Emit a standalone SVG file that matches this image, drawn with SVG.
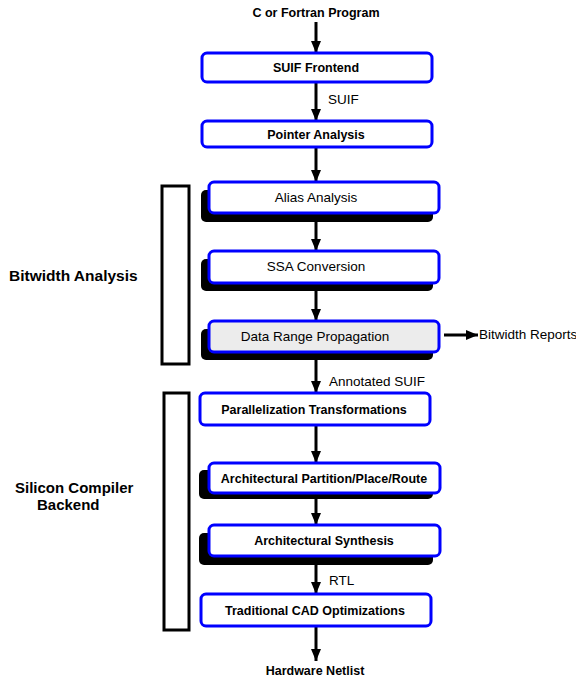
<svg xmlns="http://www.w3.org/2000/svg" width="576" height="684" viewBox="0 0 576 684">
  <style>
    .box { fill: #ffffff; stroke: #0000ff; stroke-width: 3; }
    .gray { fill: #ececec; }
    .shadow { fill: #000000; }
    .bracket { fill: none; stroke: #000000; stroke-width: 3; }
    .b { font-family: "Liberation Sans", Arial, sans-serif; font-weight: bold; font-size: 12.5px; fill: #000; text-anchor: middle; }
    .n { font-family: "Liberation Sans", Arial, sans-serif; font-size: 13.5px; fill: #000; text-anchor: middle; }
    .lbl { font-family: "Liberation Sans", Arial, sans-serif; font-size: 13.5px; fill: #000; }
    .side { font-family: "Liberation Sans", Arial, sans-serif; font-weight: bold; font-size: 15px; fill: #000; }
    .edge { stroke: #000; stroke-width: 3; fill: none; marker-end: url(#head); }
  </style>
  <defs>
    <marker id="head" markerUnits="userSpaceOnUse" markerWidth="12" markerHeight="12" viewBox="0 0 12 12" refX="12" refY="6" orient="auto">
      <path d="M0,1 L12,6 L0,11 Z" fill="#000"/>
    </marker>
  </defs>

  <!-- grouping brackets -->
  <g id="bitwidth-analysis">
    <rect class="bracket" x="162" y="186" width="27" height="178"/>
    <text class="side" x="9" y="281" style="font-size:15.5px">Bitwidth Analysis</text>
  </g>
  <g id="silicon-backend">
    <rect class="bracket" x="164" y="393" width="25" height="237"/>
    <text class="side" x="15" y="493">Silicon Compiler</text>
    <text class="side" x="37" y="510">Backend</text>
  </g>

  <!-- connectors -->
  <g id="connectors">
    <line class="edge" x1="316" y1="22" x2="316" y2="53"/>
    <line class="edge" x1="316" y1="83" x2="316" y2="121"/>
    <line class="edge" x1="316" y1="148" x2="316" y2="182"/>
    <line class="edge" x1="316" y1="214" x2="316" y2="251"/>
    <line class="edge" x1="316" y1="284" x2="316" y2="321"/>
    <line class="edge" x1="316" y1="353" x2="316" y2="393"/>
    <line class="edge" x1="316" y1="426" x2="316" y2="463"/>
    <line class="edge" x1="316" y1="494" x2="316" y2="525"/>
    <line class="edge" x1="316" y1="557" x2="316" y2="594"/>
    <line class="edge" x1="316" y1="627" x2="316" y2="661"/>
    <line class="edge" x1="444" y1="335" x2="478" y2="335"/>
    <text class="lbl" x="328" y="104">SUIF</text>
    <text class="lbl" x="329" y="386">Annotated SUIF</text>
    <text class="lbl" x="329" y="585">RTL</text>
  </g>

  <!-- terminals -->
  <g id="source">
    <text class="b" x="316" y="17">C or Fortran Program</text>
  </g>
  <g id="netlist">
    <text class="b" x="315" y="675">Hardware Netlist</text>
  </g>
  <g id="reports">
    <text class="lbl" x="479" y="339">Bitwidth Reports</text>
  </g>

  <!-- processing stages -->
  <g id="suif-frontend">
    <rect class="box" x="202" y="53" width="230" height="29" rx="5"/>
    <text class="b" x="316" y="72">SUIF Frontend</text>
  </g>
  <g id="pointer-analysis">
    <rect class="box" x="202" y="121" width="230" height="26" rx="5"/>
    <text class="b" x="316" y="139">Pointer Analysis</text>
  </g>
  <g id="alias-analysis">
    <rect class="shadow" x="201" y="190" width="232" height="32" rx="5"/>
    <rect class="box" x="209" y="182" width="230" height="31" rx="5"/>
    <text class="n" x="316" y="202">Alias Analysis</text>
  </g>
  <g id="ssa-conversion">
    <rect class="shadow" x="201" y="259" width="232" height="32" rx="5"/>
    <rect class="box" x="209" y="251" width="230" height="32" rx="5"/>
    <text class="n" x="316" y="271">SSA Conversion</text>
  </g>
  <g id="data-range-propagation">
    <rect class="shadow" x="201" y="329" width="232" height="31" rx="5"/>
    <rect class="box gray" x="209" y="321" width="230" height="31" rx="5"/>
    <text class="n" x="315" y="341">Data Range Propagation</text>
  </g>
  <g id="parallelization">
    <rect class="box" x="200" y="393" width="230" height="32" rx="5"/>
    <text class="b" x="314" y="414">Parallelization Transformations</text>
  </g>
  <g id="partition-place-route">
    <rect class="shadow" x="199" y="470" width="234" height="29" rx="5"/>
    <rect class="box" x="209" y="463" width="231" height="30" rx="5"/>
    <text class="b" x="324" y="483">Architectural Partition/Place/Route</text>
  </g>
  <g id="arch-synthesis">
    <rect class="shadow" x="199" y="533" width="234" height="32" rx="5"/>
    <rect class="box" x="209" y="525" width="231" height="31" rx="5"/>
    <text class="b" x="324" y="545">Architectural Synthesis</text>
  </g>
  <g id="cad-optimizations">
    <rect class="box" x="201" y="594" width="230" height="32" rx="5"/>
    <text class="b" x="315" y="615">Traditional CAD Optimizations</text>
  </g>
</svg>
